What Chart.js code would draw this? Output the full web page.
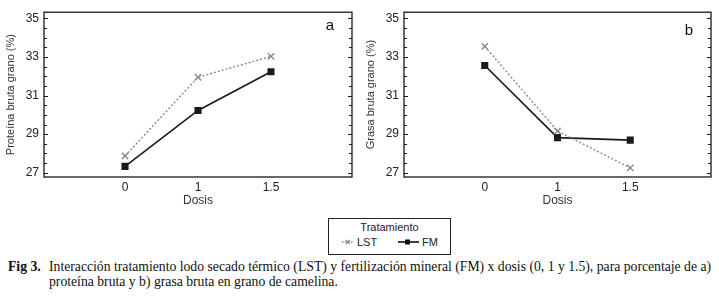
<!DOCTYPE html>
<html>
<head>
<meta charset="utf-8">
<script src="https://cdn.jsdelivr.net/npm/chart.js@4.4.1/dist/chart.umd.min.js"></script>
<style>
  body { margin: 0; background: #fff; width: 719px; height: 299px; position: relative; overflow: hidden; font-family: "Liberation Sans", Arial, sans-serif; }
  .panel { position: absolute; top: 0; height: 210px; }
  #wa { left: 0; width: 360px; }
  #wb { left: 360px; width: 359px; }
  #legend { position: absolute; left: 328px; top: 218px; width: 121px; height: 35px; border: 1px solid #222; color: #222; font-size: 11px; }
  #legend .ttl { position: absolute; top: 2px; left: 0; width: 100%; text-align: center; }
  #legend .item { position: absolute; top: 17px; display: flex; align-items: center; }
  #caption { position: absolute; left: 0; top: 260px; width: 719px; font-family: "Liberation Serif", "Times New Roman", serif; font-size: 13.7px; line-height: 14.5px; color: #111; }
  #caption .fig { position: absolute; left: 8px; top: 0; font-weight: bold; }
  #caption .txt { position: absolute; left: 49px; top: 0; white-space: nowrap; }
</style>
</head>
<body>
<div class="panel" id="wa"><canvas id="chartA"></canvas></div>
<div class="panel" id="wb"><canvas id="chartB"></canvas></div>

<div id="legend">
  <div class="ttl">Tratamiento</div>
  <div class="item" style="left:13px">
    <svg width="12" height="8"><line x1="0" y1="4" x2="12" y2="4" stroke="#888" stroke-width="1.3" stroke-dasharray="1.5,1.5"/><path d="M4 2 L8 6 M8 2 L4 6" stroke="#888" stroke-width="1.2"/></svg>
    <span style="margin-left:3px">LST</span>
  </div>
  <div class="item" style="left:69px">
    <svg width="21" height="8"><line x1="0" y1="4" x2="21" y2="4" stroke="#111" stroke-width="1.6"/><rect x="7" y="1.5" width="5" height="5" fill="#111"/></svg>
    <span style="margin-left:3px">FM</span>
  </div>
</div>

<div id="caption">
  <span class="fig">Fig 3.</span>
  <span class="txt">Interacción tratamiento lodo secado térmico (LST) y fertilización mineral (FM) x dosis (0, 1 y 1.5), para porcentaje de a)<br>proteína bruta y b) grasa bruta en grano de camelina.</span>
</div>

<script>
// datos
const dosis = ['0', '1', '1.5'];
const proteinaLST = [27.87, 31.95, 33.03];
const proteinaFM = [27.33, 30.23, 32.23];
const grasaLST = [33.55, 29.16, 27.25];
const grasaFM = [32.56, 28.82, 28.69];
const yLabels = [27, 29, 31, 33, 35];

Chart.defaults.font.family = '"Liberation Sans", Arial, sans-serif';
Chart.defaults.color = '#222';

// marco con marcas hacia dentro + letra del panel
const framePlugin = {
  id: 'frame',
  beforeDatasetsDraw(chart, args, opts) {
    const { ctx, chartArea: { left, right, top, bottom }, scales: { y } } = chart;
    ctx.save();
    ctx.strokeStyle = '#1a1a1a';
    ctx.lineWidth = 1.3;
    ctx.strokeRect(left, top, right - left, bottom - top);
    ctx.lineWidth = 1;
    y.ticks.forEach(t => {
      const py = Math.round(y.getPixelForValue(t.value)) + 0.5;
      const len = yLabels.includes(t.value) ? 4 : 3;
      ctx.beginPath();
      ctx.moveTo(left, py); ctx.lineTo(left + len, py);
      ctx.moveTo(right, py); ctx.lineTo(right - len, py);
      ctx.stroke();
    });
    ctx.fillStyle = '#111';
    ctx.font = '15px "Liberation Sans", Arial, sans-serif';
    ctx.textAlign = 'center';
    ctx.textBaseline = 'middle';
    ctx.fillText(opts.letter, right - 22, top + opts.letterY);
    ctx.restore();
  }
};

function makePanel(id, lst, fm, yTitle, letter, letterY) {
  new Chart(document.getElementById(id), {
    type: 'line',
    data: {
      datasets: [{
        label: 'LST',
        data: lst.map((v, i) => ({ x: i, y: v })),
        borderColor: '#8a8a8a',
        borderWidth: 1.4,
        borderDash: [2, 2],
        pointStyle: 'crossRot',
        pointRadius: 4.5,
        pointBorderColor: '#8a8a8a',
        pointBorderWidth: 1.4,
        fill: false
      }, {
        label: 'FM',
        data: fm.map((v, i) => ({ x: i, y: v })),
        borderColor: '#1a1a1a',
        borderWidth: 1.6,
        pointStyle: 'rect',
        pointRadius: 5,
        pointBackgroundColor: '#1a1a1a',
        pointBorderColor: '#1a1a1a',
        pointBorderWidth: 0,
        fill: false
      }]
    },
    options: {
      responsive: true,
      maintainAspectRatio: false,
      animation: false,
      layout: { padding: { top: 6, right: 8, left: 0, bottom: 0 } },
      plugins: {
        legend: { display: false },
        tooltip: { enabled: false },
        frame: { letter: letter, letterY: letterY }
      },
      scales: {
        x: {
          type: 'linear',
          min: -1.11,
          max: 3.11,
          afterBuildTicks: s => { s.ticks = dosis.map((d, i) => ({ value: i })); },
          ticks: { callback: v => dosis[v], padding: 3, autoSkip: false, maxRotation: 0, font: { size: 12 } },
          grid: { display: false, drawTicks: false },
          border: { display: false },
          title: { display: true, text: 'Dosis', color: '#333', font: { size: 12 }, padding: { top: 0, bottom: 2 } },
          afterFit: s => { s.height = 33; }
        },
        y: {
          min: 26.78,
          max: 35.32,
          afterBuildTicks: s => {
            s.ticks = [];
            for (let v = 27; v <= 35; v += 0.5) s.ticks.push({ value: v });
          },
          ticks: { callback: v => yLabels.includes(v) ? v : '', padding: 5, autoSkip: false, font: { size: 12 } },
          grid: { display: false, drawTicks: false },
          border: { display: false },
          title: { display: true, text: yTitle, color: '#333', font: { size: 11 }, padding: { top: 4, bottom: 4 } },
          afterFit: s => { s.width = 44; }
        }
      }
    },
    plugins: [framePlugin]
  });
}

makePanel('chartA', proteinaLST, proteinaFM, 'Proteína bruta grano (%)', 'a', 14);
makePanel('chartB', grasaLST, grasaFM, 'Grasa bruta grano (%)', 'b', 19);
</script>
</body>
</html>
